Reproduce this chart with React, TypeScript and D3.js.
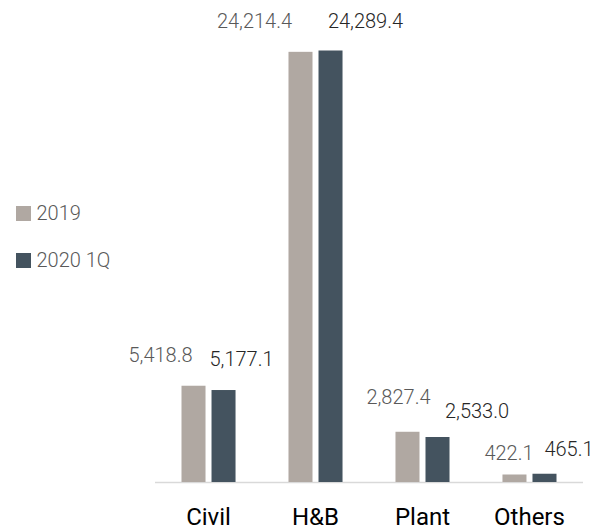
import React from "react";
import * as d3 from "d3";

const categories = ["Civil", "H&B", "Plant", "Others"];
const seriesNames = ["2019", "2020 1Q"];
const values2019 = [5418.8, 24214.4, 2827.4, 422.1];
const values2020 = [5177.1, 24289.4, 2533.0, 465.1];

// layout offsets for the data labels (manually placed in the original)
const labelDx2019 = [-33, -46, -9, -5.5];
const labelDx2020 = [18, 35, 39.5, 24.5];
const labelDy2019 = [-24, -24, -28, -14.5];
const labelDy2020 = [-24, -22.5, -19, -17.5];

const W = 597;
const H = 531;
const colors = ["#b0a8a2", "#44535f"];
const labelColors = ["#595959", "#262626"];
const fontFamily = "Roboto, 'Noto Sans', sans-serif";

export default function App() {
  const x0 = d3
    .scaleBand<string>()
    .domain(categories)
    .range([155, 583])
    .paddingInner(0.495)
    .paddingOuter(0.2477);
  const x1 = d3
    .scaleBand<string>()
    .domain(seriesNames)
    .range([0, x0.bandwidth()])
    .paddingInner(0.2)
    .paddingOuter(0);
  const y = d3.scaleLinear().domain([0, d3.max(values2020)!]).range([482, 50.5]);
  const fmt = d3.format(",.1f");

  const series = [values2019, values2020];
  const dxs = [labelDx2019, labelDx2020];
  const dys = [labelDy2019, labelDy2020];

  return (
    <svg
      width={W}
      height={H}
      style={{ position: "absolute", left: 0, top: 0, background: "#fff" }}
      fontFamily={fontFamily}
    >
      <line x1={155} x2={583} y1={482.5} y2={482.5} stroke="#d9d9d9" strokeWidth={1.5} />
      {categories.map((c, i) => (
        <g key={c}>
          {series.map((vals, s) => {
            const bx = x0(c)! + x1(seriesNames[s])!;
            const by = y(vals[i]);
            return (
              <g key={s}>
                <rect
                  x={bx}
                  y={by}
                  width={x1.bandwidth()}
                  height={y(0) - by}
                  fill={colors[s]}
                />
                <text
                  x={bx + x1.bandwidth() / 2 + dxs[s][i]}
                  y={by + dys[s][i]}
                  textAnchor="middle"
                  fontSize={20}
                  fontWeight={300}
                  fill={labelColors[s]}
                >
                  {fmt(vals[i])}
                </text>
              </g>
            );
          })}
          <text
            x={x0(c)! + x0.bandwidth() / 2}
            y={525}
            textAnchor="middle"
            fontSize={24}
            fill="#000"
          >
            {c}
          </text>
        </g>
      ))}
      {seriesNames.map((s, i) => (
        <g key={s} transform={`translate(16, ${206 + i * 47})`}>
          <rect width={15} height={15} fill={colors[i]} />
          <text x={20.5} y={14} fontSize={20} fontWeight={300} fill="#595959">
            {s}
          </text>
        </g>
      ))}
    </svg>
  );
}
